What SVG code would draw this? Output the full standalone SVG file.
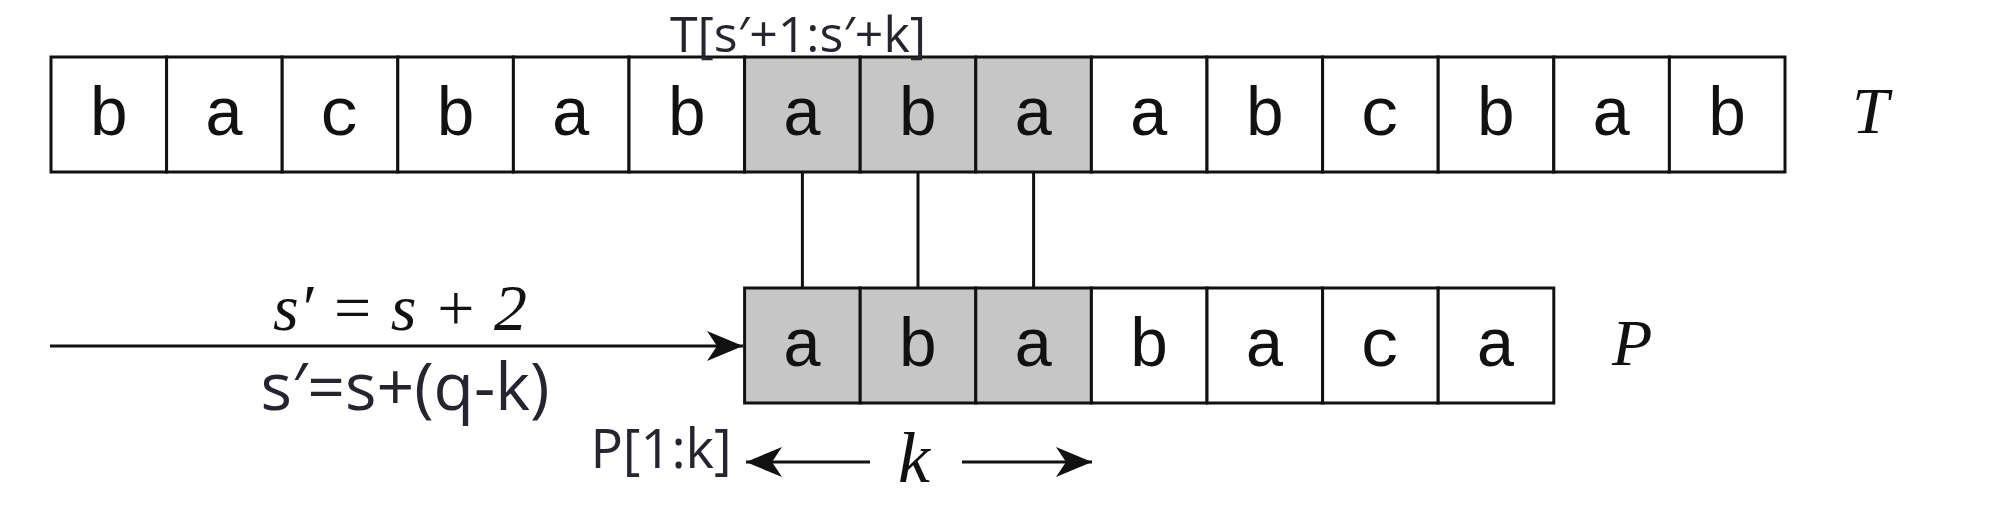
<svg xmlns="http://www.w3.org/2000/svg" width="1992" height="506" viewBox="0 0 1992 506">
<style>
.c{fill:#fff;stroke:#111;stroke-width:3}
.h{fill:#c6c6c6;stroke:#111;stroke-width:3}
.l{font-size:68px;text-anchor:middle;fill:#111}
.m{font-family:"Liberation Serif","DejaVu Serif",serif;font-style:italic;fill:#111}
.s{font-family:"Open Sans","Liberation Sans",sans-serif;fill:#25252f}
.ln{stroke:#111;stroke-width:3;fill:none}
</style>
<defs><marker id="a" viewBox="0 0 36 30" refX="36" refY="15" markerWidth="36" markerHeight="30" markerUnits="userSpaceOnUse" orient="auto-start-reverse"><path d="M0,0 L36,15 L0,30 L10,15 Z" fill="#111"/></marker></defs>
<g id="T" font-family="Liberation Mono, DejaVu Sans Mono, monospace">
<rect class="c" x="51" y="57" width="115.6" height="115"/><text class="l" x="108.8" y="135">b</text>
<rect class="c" x="166.6" y="57" width="115.6" height="115"/><text class="l" x="224.4" y="135">a</text>
<rect class="c" x="282.2" y="57" width="115.6" height="115"/><text class="l" x="340" y="135">c</text>
<rect class="c" x="397.8" y="57" width="115.6" height="115"/><text class="l" x="455.6" y="135">b</text>
<rect class="c" x="513.4" y="57" width="115.6" height="115"/><text class="l" x="571.2" y="135">a</text>
<rect class="c" x="629" y="57" width="115.6" height="115"/><text class="l" x="686.8" y="135">b</text>
<rect class="h" x="744.6" y="57" width="115.6" height="115"/><text class="l" x="802.4" y="135">a</text>
<rect class="h" x="860.2" y="57" width="115.6" height="115"/><text class="l" x="918" y="135">b</text>
<rect class="h" x="975.8" y="57" width="115.6" height="115"/><text class="l" x="1033.6" y="135">a</text>
<rect class="c" x="1091.4" y="57" width="115.6" height="115"/><text class="l" x="1149.2" y="135">a</text>
<rect class="c" x="1207" y="57" width="115.6" height="115"/><text class="l" x="1264.8" y="135">b</text>
<rect class="c" x="1322.6" y="57" width="115.6" height="115"/><text class="l" x="1380.4" y="135">c</text>
<rect class="c" x="1438.2" y="57" width="115.6" height="115"/><text class="l" x="1496" y="135">b</text>
<rect class="c" x="1553.8" y="57" width="115.6" height="115"/><text class="l" x="1611.6" y="135">a</text>
<rect class="c" x="1669.4" y="57" width="115.6" height="115"/><text class="l" x="1727.2" y="135">b</text>
<text class="m" x="1852" y="133" font-size="66">T</text>
</g>
<g id="P" font-family="Liberation Mono, DejaVu Sans Mono, monospace">
<rect class="h" x="744.6" y="288" width="115.6" height="115"/><text class="l" x="802.4" y="366">a</text>
<rect class="h" x="860.2" y="288" width="115.6" height="115"/><text class="l" x="918" y="366">b</text>
<rect class="h" x="975.8" y="288" width="115.6" height="115"/><text class="l" x="1033.6" y="366">a</text>
<rect class="c" x="1091.4" y="288" width="115.6" height="115"/><text class="l" x="1149.2" y="366">b</text>
<rect class="c" x="1207" y="288" width="115.6" height="115"/><text class="l" x="1264.8" y="366">a</text>
<rect class="c" x="1322.6" y="288" width="115.6" height="115"/><text class="l" x="1380.4" y="366">c</text>
<rect class="c" x="1438.2" y="288" width="115.6" height="115"/><text class="l" x="1496" y="366">a</text>
<text class="m" x="1612" y="365" font-size="66">P</text>
</g>
<g id="connectors">
<line class="ln" x1="50" y1="346" x2="743" y2="346" marker-end="url(#a)"/>
<line class="ln" x1="802.4" y1="172" x2="802.4" y2="288"/>
<line class="ln" x1="918" y1="172" x2="918" y2="288"/>
<line class="ln" x1="1033.6" y1="172" x2="1033.6" y2="288"/>
<line class="ln" x1="870" y1="462" x2="746" y2="462" marker-end="url(#a)"/>
<line class="ln" x1="962" y1="462" x2="1092" y2="462" marker-end="url(#a)"/>
</g>
<g id="labels">
<text class="m" x="400" y="330" font-size="66" text-anchor="middle">s′ = s + 2</text>
<text class="s" x="405" y="410" font-size="66" text-anchor="middle">s′=s+(q-k)</text>
<text class="s" x="798" y="52" font-size="50" text-anchor="middle">T[s′+1:s′+k]</text>
<text class="s" x="661" y="468" font-size="54" text-anchor="middle">P[1:k]</text>
<text class="m" x="914" y="482" font-size="72" text-anchor="middle">k</text>
</g>
</svg>
